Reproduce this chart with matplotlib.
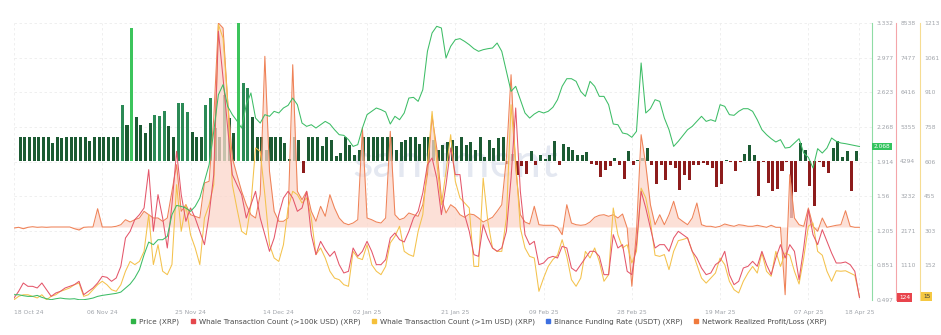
import numpy as np
import matplotlib
matplotlib.use('Agg')
import matplotlib.pyplot as plt
from matplotlib.lines import Line2D
from matplotlib.transforms import blended_transform_factory

# daily series, 18 Oct 24 -> 18 Apr 25
price = [
    0.551, 0.551, 0.541, 0.534, 0.534, 0.544, 0.524, 0.510, 0.500, 0.510,
    0.517, 0.510, 0.507, 0.510, 0.500, 0.500, 0.507, 0.517, 0.534, 0.544,
    0.551, 0.558, 0.565, 0.578, 0.619, 0.660, 0.722, 0.807, 0.960, 1.090,
    1.063, 1.114, 1.114, 1.148, 1.370, 1.465, 1.455, 1.438, 1.404, 1.455,
    1.541, 1.711, 1.882, 2.223, 2.598, 2.701, 2.479, 2.394, 2.330, 2.257,
    2.496, 2.615, 2.359, 2.308, 2.394, 2.377, 2.428, 2.411, 2.462, 2.489,
    2.564, 2.496, 2.308, 2.274, 2.291, 2.257, 2.291, 2.325, 2.298, 2.240,
    2.189, 2.182, 2.138, 2.069, 2.087, 2.257, 2.394, 2.428, 2.462, 2.445,
    2.421, 2.298, 2.377, 2.342, 2.411, 2.564, 2.571, 2.530, 2.649, 3.042,
    3.230, 3.298, 3.281, 2.974, 3.093, 3.161, 3.172, 3.144, 3.110, 3.069,
    3.042, 3.059, 3.069, 3.076, 3.127, 3.042, 2.837, 2.632, 2.684, 2.547,
    2.411, 2.359, 2.400, 2.428, 2.411, 2.428, 2.469, 2.547, 2.684, 2.762,
    2.762, 2.735, 2.632, 2.581, 2.735, 2.684, 2.581, 2.581, 2.496, 2.298,
    2.291, 2.206, 2.196, 2.162, 2.223, 2.923, 2.411, 2.455, 2.547, 2.530,
    2.359, 2.240, 2.069, 2.121, 2.180, 2.240, 2.274, 2.325, 2.377, 2.325,
    2.342, 2.325, 2.496, 2.479, 2.394, 2.387, 2.428, 2.455, 2.455, 2.428,
    2.342, 2.240, 2.189, 2.148, 2.114, 2.138, 2.052, 2.059, 2.104, 2.148,
    2.001, 1.957, 1.848, 2.046, 2.001, 2.052, 2.155, 2.121, 2.104, 2.097,
    2.087, 2.076, 2.068,
]

whale_100k = [
    110, 315, 570, 468, 468, 417, 570, 366, 161, 264,
    315, 417, 468, 519, 621, 212, 315, 417, 570, 774,
    744, 621, 723, 1081, 1949, 2154, 2511, 2665, 2869, 4044,
    2154, 3278, 2562, 1643, 2971, 4606, 3278, 2460, 2869, 2562,
    2154, 1745, 2665, 3891, 8284, 6853, 5321, 3891, 3580, 3278,
    2562, 2971, 3380, 2562, 2052, 1541, 1949, 2665, 3175, 3380,
    3175, 2767, 2869, 3380, 2052, 1439, 1847, 1592, 1387, 1541,
    1132, 877, 928, 1643, 1387, 1541, 1847, 1541, 1132, 1132,
    1285, 1949, 2103, 1898, 1827, 2154, 2562, 2767, 3329, 4197,
    4401, 3788, 2665, 3584, 4708, 3891, 3891, 2665, 2154, 1439,
    1387, 2358, 1949, 1643, 1541, 1643, 2154, 3788, 5934, 3380,
    2052, 1745, 1847, 1132, 1183, 1336, 1387, 1336, 1694, 1643,
    1030, 928, 1132, 1336, 1541, 1541, 1387, 826, 826, 2052,
    1643, 1745, 928, 826, 1745, 3380, 2869, 2256, 1643, 1745,
    1745, 1541, 1949, 2154, 2050, 1949, 1541, 1336, 1030, 826,
    877, 1132, 1234, 1541, 826, 519, 621, 1030, 1081, 1234,
    1081, 1541, 1132, 826, 1336, 1745, 1336, 1745, 1541, 672,
    1643, 2818, 2052, 1745, 2205, 1847, 1490, 1183, 1183, 1214,
    1132, 928, 124,
]

whale_1m = [
    1, 16, 23, 23, 16, 9, 23, 1, 16, 23,
    38, 45, 53, 67, 74, 16, 23, 45, 67, 82,
    67, 45, 38, 67, 126, 169, 155, 169, 213, 374,
    155, 242, 126, 111, 155, 505, 301, 417, 286, 228,
    155, 359, 417, 505, 1206, 1147, 870, 505, 400, 301,
    286, 417, 666, 651, 461, 242, 184, 169, 242, 403,
    476, 461, 425, 447, 359, 199, 228, 184, 126, 96,
    89, 67, 60, 213, 184, 177, 242, 155, 126, 111,
    147, 250, 279, 323, 213, 199, 191, 301, 374, 593,
    826, 607, 417, 563, 724, 520, 447, 425, 403, 147,
    147, 534, 344, 228, 213, 213, 359, 855, 607, 315,
    228, 191, 184, 38, 96, 147, 177, 196, 264, 191,
    89, 60, 96, 213, 184, 228, 169, 82, 111, 403,
    286, 228, 242, 162, 213, 490, 447, 344, 196, 191,
    199, 133, 213, 260, 265, 272, 213, 155, 96, 74,
    96, 118, 184, 155, 82, 45, 31, 82, 118, 147,
    118, 206, 126, 104, 213, 147, 206, 196, 126, 70,
    184, 323, 337, 213, 196, 126, 82, 128, 126, 128,
    118, 108, 15,
]

# network realized profit/loss, USD millions
nrpl = [
    -10, -3, -17, -3, 3, -3, 0, -3, 0, 0,
    0, 0, 0, -17, -30, -3, 0, 0, 183, 0,
    0, 0, 7, 23, 73, 50, 73, 90, 157, 123,
    90, 90, 57, 90, 357, 623, 157, 223, 123, 107,
    90, 440, 457, 1090, 2040, 1990, 1257, 690, 520, 357,
    223, 123, 90, 323, 1707, 557, 157, 57, 57, 90,
    1623, 357, 273, 357, 157, 57, 207, 107, 323, 190,
    90, 40, 23, 40, 73, 990, 90, 73, 50, 40,
    90, 957, 123, 73, 90, 140, 123, 107, 223, 523,
    1107, 790, 290, 140, 223, 190, 123, 97, 130, 123,
    90, 50, 73, 97, 157, 223, 690, 1523, 590, 123,
    50, 30, 207, 23, 17, 17, 17, -3, -77, 223,
    40, 23, 17, 23, 50, 97, 117, 123, 107, 123,
    90, 130, -10, -593, -43, 923, 623, 223, 23, 123,
    23, 123, 257, 90, 55, 23, 90, 240, 23, 7,
    7, -3, 7, 30, 17, 7, 23, 17, 7, 7,
    17, 7, -3, 17, -3, -3, -677, 523, 90, 23,
    7, 190, 7, -43, 90, -3, 7, 17, 23, 163,
    7, -3, -3,
]

# binance funding rate, %, 19 Oct 24 -> 18 Apr 25
funding = [
    0.0100, 0.0100, 0.0100, 0.0100, 0.0100, 0.0100, 0.0100, 0.0074, 0.0100, 0.0095,
    0.0100, 0.0100, 0.0100, 0.0100, 0.0100, 0.0084, 0.0100, 0.0100, 0.0100, 0.0100,
    0.0100, 0.0100, 0.0229, 0.0147, 0.0549, 0.0182, 0.0148, 0.0114, 0.0155, 0.0189,
    0.0185, 0.0205, 0.0144, 0.0100, 0.0237, 0.0240, 0.0200, 0.0120, 0.0100, 0.0100,
    0.0230, 0.0258, 0.0134, 0.0100, 0.0271, 0.0175, 0.0114, 0.0571, 0.0323, 0.0300,
    0.0180, 0.0100, 0.0100, 0.0045, 0.0100, 0.0100, 0.0100, 0.0075, 0.0010, 0.0100,
    0.0086, -0.0048, 0.0100, 0.0100, 0.0100, 0.0060, 0.0100, 0.0088, 0.0019, 0.0033,
    0.0100, 0.0067, 0.0026, 0.0047, 0.0100, 0.0100, 0.0100, 0.0100, 0.0100, 0.0100,
    0.0100, 0.0047, 0.0078, 0.0088, 0.0100, 0.0100, 0.0070, 0.0100, 0.0100, 0.0088,
    0.0047, 0.0067, 0.0078, 0.0088, 0.0060, 0.0100, 0.0064, 0.0078, 0.0047, 0.0100,
    0.0015, 0.0088, 0.0053, 0.0095, 0.0100, -0.0012, 0.0029, -0.0056, -0.0022, -0.0053,
    0.0042, -0.0015, 0.0023, 0.0010, 0.0026, 0.0084, -0.0015, 0.0070, 0.0056, 0.0047,
    0.0026, 0.0023, 0.0036, -0.0011, -0.0015, -0.0067, -0.0036, -0.0022, 0.0012, -0.0015,
    -0.0073, 0.0040, -0.0015, 0.0005, 0.0012, 0.0053, -0.0015, -0.0095, -0.0018, -0.0079,
    -0.0015, -0.0029, -0.0120, -0.0056, -0.0077, -0.0015, -0.0015, -0.0008, -0.0015, -0.0030,
    -0.0108, -0.0093, 0.0005, -0.0004, -0.0042, -0.0004, 0.0029, 0.0064, 0.0026, -0.0145,
    -0.0003, -0.0090, -0.0122, -0.0114, -0.0042, -0.0004, -0.0234, -0.0127, 0.0074, 0.0047,
    -0.0104, -0.0186, -0.0003, -0.0026, -0.0049, 0.0053, 0.0084, 0.0015, 0.0040, -0.0125,
    0.0040,
]

date_ticks = [0, 19, 38, 57, 76, 95, 114, 133, 152, 171, 182]
date_labels = ['18 Oct 24', '06 Nov 24', '25 Nov 24', '14 Dec 24', '02 Jan 25', '21 Jan 25',
               '09 Feb 25', '28 Feb 25', '19 Mar 25', '07 Apr 25', '18 Apr 25']

price_ticks = [0.497, 0.851, 1.205, 1.56, 1.914, 2.268, 2.623, 2.977, 3.332]
w100k_ticks = [1110, 2171, 3232, 4294, 5355, 6416, 7477, 8538]
w1m_ticks = [152, 303, 455, 606, 758, 910, 1061, 1213]

GREEN = '#3dbd66'
RED = '#e4566a'
YELLOW = '#f4c24c'
ORANGE = '#ef8257'
GREY = '#a0a4aa'
PLOT_W = 858  # plot width in px

days = np.arange(len(price))
fund_days = np.arange(1, len(funding) + 1)

fig = plt.figure(figsize=(9.41, 3.35), dpi=100)
ax = fig.add_axes([14 / 941, 1 - 300 / 335, PLOT_W / 941, 277 / 335])


def twin(a, ylim):
    t = a.twinx()
    t.set_ylim(*ylim)
    for s in t.spines.values():
        s.set_visible(False)
    t.set_yticks([])
    return t


axb = twin(ax, (-0.0572, 0.0568))
axn = twin(ax, (-730, 2040))
ax1m = twin(ax, (0, 1213))
ax100k = twin(ax, (49, 8538))
axp = twin(ax, (price_ticks[0], price_ticks[-1]))

# grid + price scale
ax.set_xlim(0, 184.7)
ax.set_ylim(price_ticks[0], price_ticks[-1])
ax.yaxis.tick_right()
ax.set_yticks(price_ticks)
ax.set_yticklabels([str(t) for t in price_ticks])
ax.set_xticks(date_ticks)
ax.set_xticklabels(date_labels)
ax.get_xticklabels()[0].set_ha('left')
ax.tick_params(length=0, labelsize=4.3, colors=GREY)
ax.tick_params(axis='x', pad=7)
ax.tick_params(axis='y', pad=3)
ax.grid(True, color='#ececec', lw=0.6, ls=(0, (3, 3)))
for s in ['left', 'top', 'bottom']:
    ax.spines[s].set_visible(False)
ax.spines['right'].set_color('#8fdca5')
ax.spines['right'].set_linewidth(0.8)
ax.text(0.515, 0.49, 'santiment', transform=ax.transAxes, fontsize=34, family='Lato',
        color='#e4e8f1', ha='center', va='center', zorder=0)

# funding rate bars
bar_colors = []
for v in funding:
    if v < 0:
        bar_colors.append('#8d1c1c')
    elif v >= 0.045:
        bar_colors.append('#3cc45c')
    elif v >= 0.0184:
        bar_colors.append('#2b8a56')
    else:
        bar_colors.append('#1c5a33')
axb.bar(fund_days, funding, width=0.65, align='edge', color=bar_colors, lw=0)

# realized profit/loss
axn.fill_between(days, 0, nrpl, color='#fbd6ca', alpha=0.75, lw=0)
axn.plot(days, nrpl, color=ORANGE, lw=0.75)


def side_scale(a, offset_px, color, ticks):
    sp = a.spines['right']
    sp.set_visible(True)
    sp.set_position(('axes', 1 + offset_px / PLOT_W))
    sp.set_color(color)
    sp.set_linewidth(0.8)
    a.set_yticks(ticks)
    a.set_yticklabels([str(t) for t in ticks])
    a.tick_params(length=0, labelsize=4.3, colors=GREY, pad=3)


# whale counts
ax1m.plot(days, whale_1m, color=YELLOW, lw=0.75)
side_scale(ax1m, 48, '#f6dc92', w1m_ticks)
ax100k.plot(days, whale_100k, color=RED, lw=0.75)
side_scale(ax100k, 24, '#f4a5a9', w100k_ticks)

# price on top
axp.plot(days, price, color=GREEN, lw=0.75)

# last value tags
tp = blended_transform_factory(axp.transAxes, axp.transData)
axp.text(1.002, price[-1], f'{price[-1]:.3f}', transform=tp, fontsize=4.2, color='white',
         ha='left', va='center', bbox=dict(boxstyle='square,pad=0.25', fc='#33c45e', ec='none'))
tr = blended_transform_factory(ax100k.transAxes, ax100k.transData)
ax100k.text(1 + 27 / PLOT_W, whale_100k[-1], str(whale_100k[-1]), transform=tr, fontsize=4.2,
            color='white', ha='left', va='center', clip_on=False,
            bbox=dict(boxstyle='square,pad=0.3', fc='#e8444c', ec='none'))
ty = blended_transform_factory(ax1m.transAxes, ax1m.transData)
ax1m.text(1 + 51 / PLOT_W, whale_1m[-1], str(whale_1m[-1]), transform=ty, fontsize=4.2,
          color='#3a3a3a', ha='left', va='center', clip_on=False,
          bbox=dict(boxstyle='square,pad=0.3', fc='#f5c842', ec='none'))

handles = [Line2D([], [], marker='s', ls='', markersize=3.2, color=c)
           for c in ['#2fb447', '#e5484d', '#f5c03a', '#3d6fe0', '#f07a3c']]
labels = ['Price (XRP)', 'Whale Transaction Count (>100k USD) (XRP)',
          'Whale Transaction Count (>1m USD) (XRP)', 'Binance Funding Rate (USDT) (XRP)',
          'Network Realized Profit/Loss (XRP)']
fig.legend(handles, labels, loc='center', bbox_to_anchor=(479 / 941, 1 - 322 / 335), ncol=5,
           frameon=False, fontsize=5.2, handlelength=0.6, handletextpad=0.5,
           columnspacing=1.6, labelcolor='#4a4a4a')

fig.savefig('out.png', dpi=100)
